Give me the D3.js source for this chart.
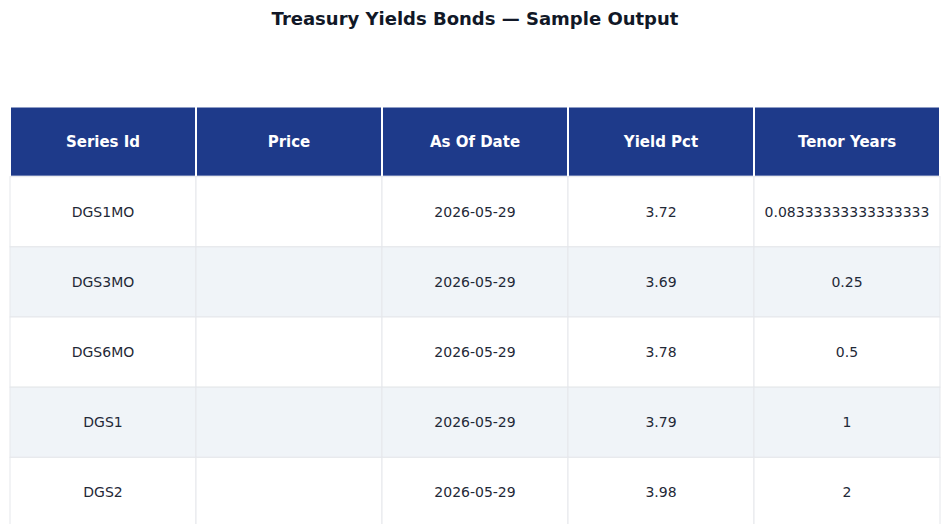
<!DOCTYPE html>
<html><head><meta charset="utf-8">
<script src="https://cdn.jsdelivr.net/npm/d3@7"></script>
<style>body{margin:0;background:#fff}svg{display:block}</style>
</head><body><svg id="c" width="950" height="524"></svg>
<script>
const title = "Treasury Yields Bonds — Sample Output";
const columns = ["Series Id","Price","As Of Date","Yield Pct","Tenor Years"];
const seriesIds = ["DGS1MO","DGS3MO","DGS6MO","DGS1","DGS2"];
const prices = ["","","","",""];
const asOfDates = ["2026-05-29","2026-05-29","2026-05-29","2026-05-29","2026-05-29"];
const yieldPct = ["3.72","3.69","3.78","3.79","3.98"];
const tenorYears = ["0.08333333333333333","0.25","0.5","1","2"];

const rows = seriesIds.map((s,i)=>[s,prices[i],asOfDates[i],yieldPct[i],tenorYears[i]]);
const svg = d3.select("#c");
const font = "DejaVu Sans, sans-serif";
svg.append("text").attr("x",475).attr("y",25).attr("text-anchor","middle")
  .attr("font-family",font).attr("font-weight","bold").attr("font-size",18)
  .attr("fill","#111827").text(title);

const x = d3.scaleBand().domain(d3.range(columns.length)).range([10,940]);
const y = d3.scaleBand().domain(d3.range(-1,rows.length)).range([106.5,527.5]);

// header
const hg = svg.append("g");
hg.selectAll("rect").data(columns).join("rect")
  .attr("x",(d,i)=>x(i)).attr("y",y(-1)).attr("width",x.bandwidth()).attr("height",y.bandwidth())
  .attr("fill","#1e3a8a").attr("stroke","#fff").attr("stroke-width",2);
hg.selectAll("text").data(columns).join("text")
  .attr("x",(d,i)=>x(i)+x.bandwidth()/2).attr("y",y(-1)+y.bandwidth()/2)
  .attr("dy","0.35em").attr("text-anchor","middle").attr("font-family",font)
  .attr("font-weight","bold").attr("font-size",15).attr("fill","#fff").text(d=>d);

// body
rows.forEach((r,ri)=>{
  const g = svg.append("g");
  g.selectAll("rect").data(r).join("rect")
    .attr("x",(d,i)=>x(i)).attr("y",y(ri)).attr("width",x.bandwidth()).attr("height",y.bandwidth())
    .attr("fill",ri%2?"#f0f4f8":"#fff").attr("stroke","#e5e7eb").attr("stroke-width",1);
  g.selectAll("text").data(r).join("text")
    .attr("x",(d,i)=>x(i)+x.bandwidth()/2).attr("y",y(ri)+y.bandwidth()/2)
    .attr("dy","0.35em").attr("text-anchor","middle").attr("font-family",font)
    .attr("font-size",14).attr("fill","#1f2937").text(d=>d);
});
</script></body></html>
